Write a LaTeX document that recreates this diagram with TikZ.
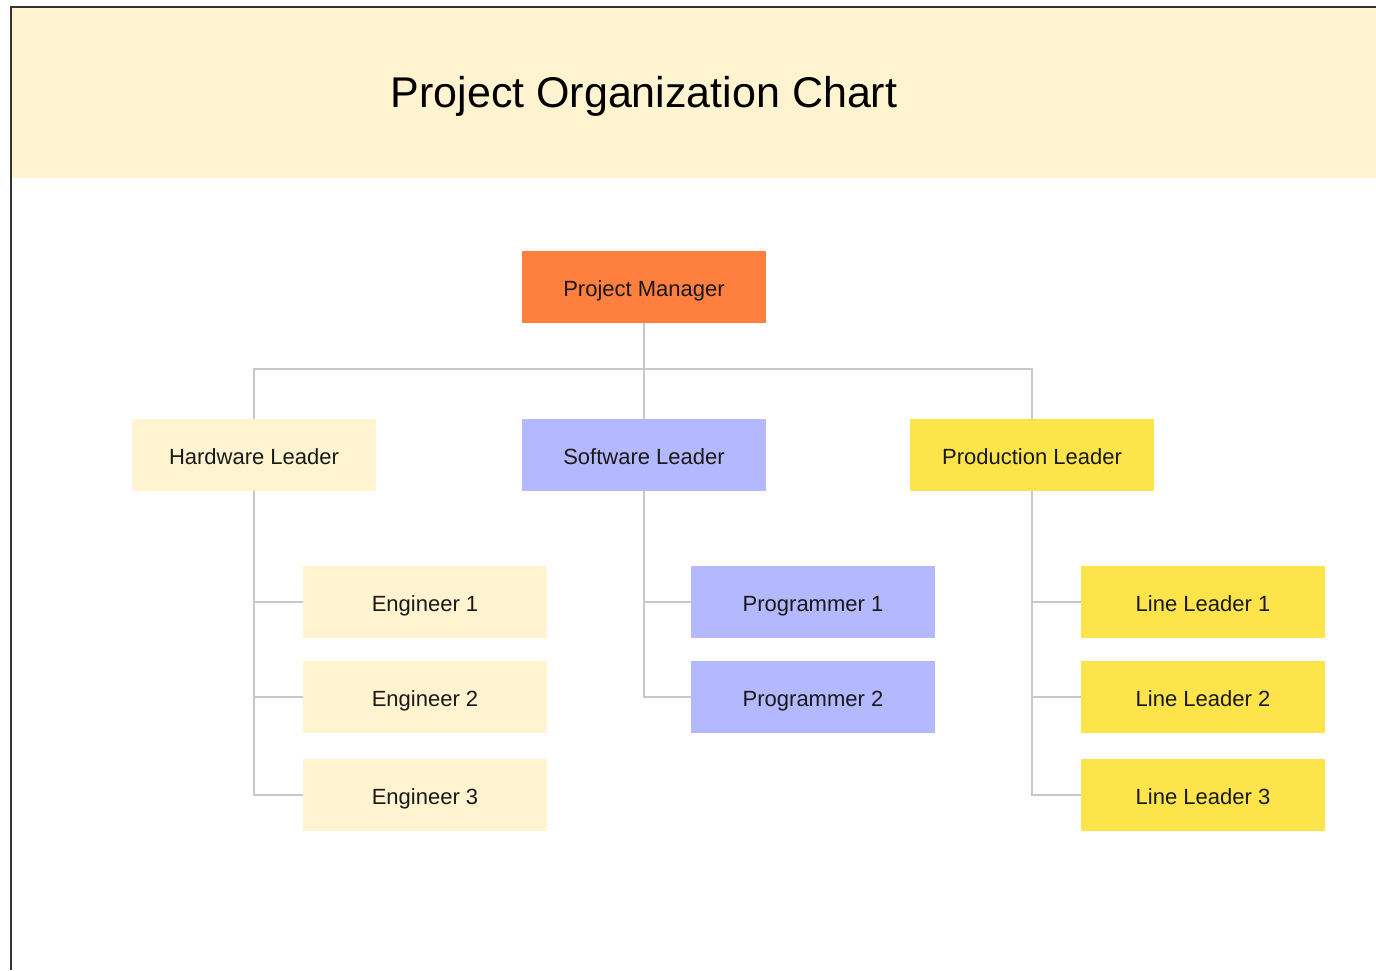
\documentclass[tikz,border=0pt]{standalone}
\usepackage{fontspec}
\setmainfont{Liberation Sans}
\definecolor{banner}{RGB}{255,244,207}
\definecolor{pmc}{RGB}{255,127,63}
\definecolor{hwc}{RGB}{255,244,207}
\definecolor{swc}{RGB}{180,184,255}
\definecolor{plc}{RGB}{252,228,74}
\definecolor{connc}{RGB}{200,200,200}
\definecolor{txtc}{RGB}{25,25,25}
\begin{document}
\begin{tikzpicture}[x=1pt,y=-1pt,
  box/.style={minimum width=244pt,minimum height=72pt,inner sep=0pt,text height=18pt,text depth=0pt,font=\fontsize{22}{26}\selectfont,text=txtc},
  conn/.style={draw=connc,line width=2pt}]
\useasboundingbox (0,0) rectangle (1376,970);
\fill[banner] (12,8) rectangle (1376,178);
\draw[line width=2pt,black!80] (11,970) -- (11,7) -- (1376,7);
\node[font=\fontsize{43}{50}\selectfont,text=black,inner sep=0pt,text height=32pt,text depth=0pt] (title) at (644,91) {Project Organization Chart};
% nodes
\node[box,fill=pmc] (pm) at (644,287) {Project Manager};
\node[box,fill=hwc] (hw) at (254,455) {Hardware Leader};
\node[box,fill=swc] (sw) at (644,455) {Software Leader};
\node[box,fill=plc] (pl) at (1032,455) {Production Leader};
\node[box,fill=hwc] (e1) at (425,602) {Engineer 1};
\node[box,fill=hwc] (e2) at (425,697) {Engineer 2};
\node[box,fill=hwc] (e3) at (425,795) {Engineer 3};
\node[box,fill=swc] (p1) at (813,602) {Programmer 1};
\node[box,fill=swc] (p2) at (813,697) {Programmer 2};
\node[box,fill=plc] (l1) at (1203,602) {Line Leader 1};
\node[box,fill=plc] (l2) at (1203,697) {Line Leader 2};
\node[box,fill=plc] (l3) at (1203,795) {Line Leader 3};
% connectors
\coordinate (bus) at (644,369);
\draw[conn] (pm.south) -- (bus);
\draw[conn] (hw.north) |- (bus) -| (pl.north);
\draw[conn] (bus) -- (sw.north);
\draw[conn] (hw.south) |- (e1.west);
\draw[conn] (hw.south) |- (e2.west);
\draw[conn] (hw.south) |- (e3.west);
\draw[conn] (sw.south) |- (p1.west);
\draw[conn] (sw.south) |- (p2.west);
\draw[conn] (pl.south) |- (l1.west);
\draw[conn] (pl.south) |- (l2.west);
\draw[conn] (pl.south) |- (l3.west);
\end{tikzpicture}
\end{document}
